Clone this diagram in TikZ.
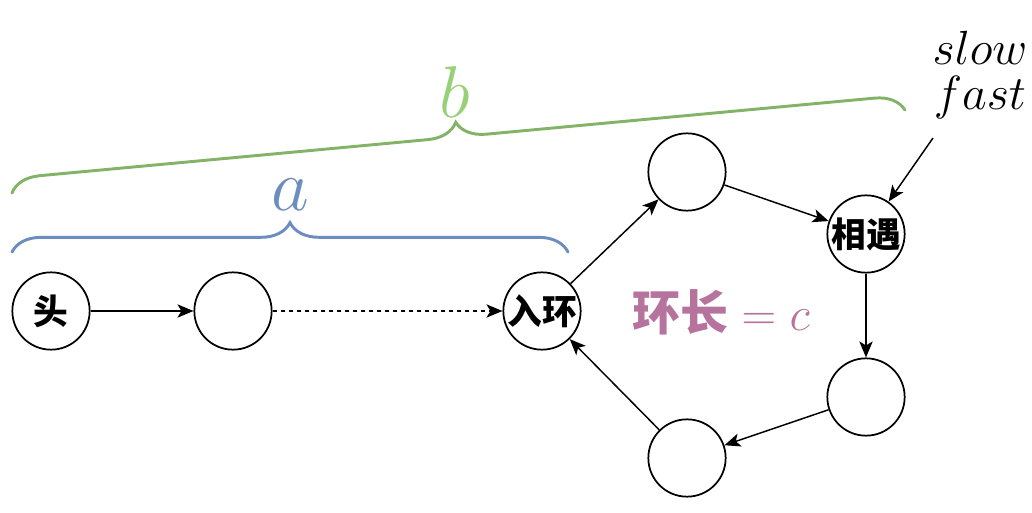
\RequirePackage{fix-cm}
\documentclass[tikz,border=0pt]{standalone}
\usepackage{fontspec}
\newfontfamily\cjk{Noto Sans CJK SC}
\usetikzlibrary{arrows.meta,decorations.pathreplacing}
\definecolor{bracea}{HTML}{6C8EBF}
\definecolor{braceb}{HTML}{82B366}
\definecolor{labelb}{HTML}{97D077}
\definecolor{ringc}{HTML}{B5739D}
\begin{document}
\begin{tikzpicture}[x=0.75pt,y=-0.75pt,
  nd/.style={circle,draw=black,line width=1.3pt,fill=white,minimum size=58pt,inner sep=0pt,
    font=\cjk\bfseries\fontsize{26}{26}\selectfont},
  arr/.style={line width=1.1pt,-{Stealth[length=12pt,width=10pt,inset=3pt]}},
  brc/.style={line width=2.2pt,line cap=round,decorate,decoration={brace,amplitude=22pt,aspect=0.5}},
  ]
\useasboundingbox (0,0) rectangle (1032,513);
% nodes
\node[nd] (head) at (51,311) {头};
\node[nd] (n2) at (233,311) {};
\node[nd] (entry) at (542,311) {入环};
\node[nd] (top) at (687,172) {};
\node[nd] (meet) at (866,234) {相遇};
\node[nd] (right) at (866,397) {};
\node[nd] (bottom) at (687,458) {};
% connectors
\draw[arr] (head) -- (n2);
\draw[arr,dashed] (n2) -- (entry);
\draw[arr] (entry) -- (top);
\draw[arr] (top) -- (meet);
\draw[arr] (meet) -- (right);
\draw[arr] (right) -- (bottom);
\draw[arr] (bottom) -- (entry);
% slow/fast
\node[align=center,inner sep=0pt,font=\fontsize{36}{40}\selectfont] (sf) at (980,75) {$slow$\\[-6pt]$fast$};
\coordinate (sfs) at (933,138);
\draw[arr] (sfs) -- (meet);
% ring length
\node[text=ringc,inner sep=0pt,font=\fontsize{36}{36}\selectfont] (len) at (721,312) {{\cjk\bfseries 环长}$\mathord{}=c$};
% braces
\coordinate (a1) at (12,252);
\coordinate (a2) at (568,252);
\draw[brc,draw=bracea] (a1) -- (a2);
\node[text=bracea,font=\fontsize{55}{55}\selectfont,inner sep=0pt] (la) at (290,195) {$a$};
\coordinate (b1) at (12,193);
\coordinate (b2) at (905,110);
\draw[brc,draw=braceb] (b1) -- (b2);
\node[text=labelb,font=\fontsize{55}{55}\selectfont,inner sep=0pt] (lb) at (455,92) {$b$};
\end{tikzpicture}
\end{document}
